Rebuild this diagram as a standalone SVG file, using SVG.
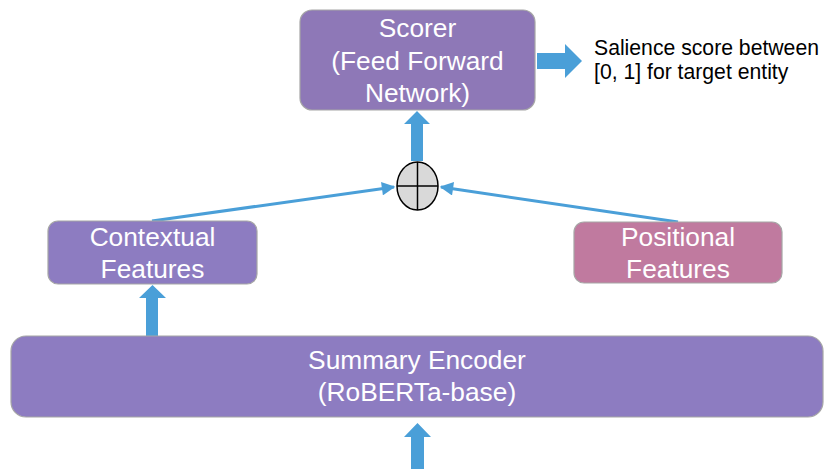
<svg xmlns="http://www.w3.org/2000/svg" width="824" height="469" viewBox="0 0 824 469">
<defs>
<style>
.box{stroke:#a6a6a6;stroke-width:1.2}
.purple{fill:#8d7cc1}
.scorer{fill:#8e78b7}
.pink{fill:#c07a9f}
.lbl{font-family:"Liberation Sans",Arial,sans-serif;font-size:26.3px;fill:#ffffff;text-anchor:middle}
.note{font-family:"Liberation Sans",Arial,sans-serif;font-size:21.2px;fill:#000000}
.blk{fill:#4a9fd8}
.conn{stroke:#4a9fd8;stroke-width:3;fill:none}
</style>
<marker id="ah" viewBox="0 0 10 10" refX="9" refY="5" markerWidth="5" markerHeight="4.5" markerUnits="strokeWidth" orient="auto">
<path d="M0,0 L10,5 L0,10 z" fill="#4a9fd8"/>
</marker>
</defs>

<g id="connectors">
<line class="conn" x1="152" y1="221" x2="394" y2="187" marker-end="url(#ah)"/>
<line class="conn" x1="678" y1="222" x2="441" y2="187" marker-end="url(#ah)"/>
<polygon id="arrow-enc-ctx" class="blk" points="146,337 146,298 139,298 152.5,285 166,298 158,298 158,337"/>
<polygon id="arrow-sum-scorer" class="blk" points="411,161 411,124 404,124 417,111 430,124 423,124 423,161"/>
<polygon id="arrow-input" class="blk" points="411,469 411,437 404,437 417.5,423 431,437 424,437 424,469"/>
<polygon id="arrow-out" class="blk" points="537,53 565,53 565,44 582,61 565,78 565,69 537,69"/>
</g>

<g id="scorer">
<rect class="box scorer" x="300" y="10" width="235" height="100" rx="12"/>
<text class="lbl" x="417.5" y="37">Scorer</text>
<text class="lbl" x="417.5" y="70">(Feed Forward</text>
<text class="lbl" x="417.5" y="102">Network)</text>
</g>

<g id="output-note">
<text class="note" x="594" y="55">Salience score between</text>
<text class="note" x="594" y="79">[0, 1] for target entity</text>
</g>

<g id="sum">
<ellipse cx="417.5" cy="186" rx="20.5" ry="24" fill="#d9d9d9" stroke="#000000" stroke-width="1.5"/>
<line x1="417.5" y1="162" x2="417.5" y2="210" stroke="#000000" stroke-width="1.5"/>
<line x1="397" y1="186" x2="438" y2="186" stroke="#000000" stroke-width="1.5"/>
</g>

<g id="contextual">
<rect class="box purple" x="48" y="221" width="209" height="63" rx="10"/>
<text class="lbl" x="152.5" y="246">Contextual</text>
<text class="lbl" x="152.5" y="278">Features</text>
</g>

<g id="positional">
<rect class="box pink" x="574" y="222" width="208" height="61" rx="10"/>
<text class="lbl" x="678" y="246">Positional</text>
<text class="lbl" x="678" y="278">Features</text>
</g>

<g id="encoder">
<rect class="box purple" x="11" y="336" width="812" height="81" rx="15"/>
<text class="lbl" x="417" y="369">Summary Encoder</text>
<text class="lbl" x="417" y="401">(RoBERTa-base)</text>
</g>
</svg>
